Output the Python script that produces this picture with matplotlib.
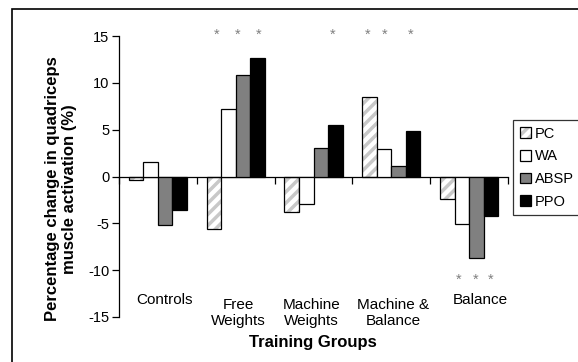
import matplotlib
matplotlib.use("Agg")
import matplotlib.pyplot as plt
import numpy as np
from matplotlib.patches import Patch, Rectangle
from matplotlib.legend_handler import HandlerTuple

plt.rcParams['font.family'] = ['Liberation Sans', 'DejaVu Sans']
plt.rcParams['hatch.linewidth'] = 2.5

groups = ["Controls", "Free\nWeights", "Machine\nWeights", "Machine &\nBalance", "Balance"]
series = ["PC", "WA", "ABSP", "PPO"]
PC = [-0.4, -5.65, -3.8, 8.5, -2.4]
WA = [1.55, 7.2, -2.9, 2.9, -5.1]
ABSP = [-5.2, 10.8, 3.0, 1.1, -8.7]
PPO = [-3.6, 12.7, 5.5, 4.9, -4.2]
values = [PC, WA, ABSP, PPO]

yticks = [-15, -10, -5, 0, 5, 10, 15]

# significance asterisks (x in category units, y in data units)
star_x_top = [0.75, 1.02, 1.29, 2.25, 2.70, 2.92, 3.25]
star_x_bottom = [3.87, 4.09, 4.28]
star_y_top = 15.15
star_y_bottom = -11.0

fig = plt.figure(figsize=(5.78, 3.62), dpi=100)
ax = fig.add_axes([119/578, 1-317/362, (508-119)/578, (317-36)/362])

x = np.arange(len(groups))
w = 0.187
offsets = [-1.5*w, -0.5*w, 0.5*w, 1.5*w]
face = ['white', 'white', '#808080', 'black']
for i, (vals, off) in enumerate(zip(values, offsets)):
    if i == 0:
        ax.bar(x + off, vals, w, color='white', edgecolor='#c8c8c8', hatch='///', linewidth=0, zorder=2)
        ax.bar(x + off, vals, w, fill=False, edgecolor='black', linewidth=0.9, zorder=3)
    else:
        ax.bar(x + off, vals, w, color=face[i], edgecolor='black', linewidth=0.9, zorder=3)

ax.set_xlim(-0.5, len(groups) - 0.5)
ax.set_ylim(-15, 15)
ax.set_yticks(yticks)
ax.set_yticklabels([str(t) for t in yticks], fontsize=10.5)
ax.tick_params(axis='y', direction='out', length=5, width=0.9, pad=2)

for s in ['top', 'right']:
    ax.spines[s].set_visible(False)
ax.spines['bottom'].set_position(('data', 0))
ax.spines['left'].set_linewidth(0.9)
ax.spines['bottom'].set_linewidth(0.9)
ax.set_xticks(np.arange(len(groups) + 1) - 0.5)
ax.set_xticklabels([])
ax.tick_params(axis='x', direction='out', length=5, width=0.9)

label_dx = [0.09, 0.03, -0.03, 0.02, 0.14]
for xi, g, dx in zip(x, groups, label_dx):
    yy = -14.55 if '\n' in g else -13.2
    ax.text(xi + dx, yy, g, ha='center', va='center', fontsize=11, linespacing=1.15)

for sx in star_x_top:
    ax.text(sx, star_y_top, '*', ha='center', va='center', color='#808080', fontsize=10.5, clip_on=False)
for sx in star_x_bottom:
    ax.text(sx, star_y_bottom, '*', ha='center', va='center', color='#808080', fontsize=10.5, clip_on=False)

fig.text(313/578, 1-342/362, "Training Groups", ha='center', va='center', fontsize=12, fontweight='bold')
fig.text(61/578, 1-189/362, "Percentage change in quadriceps\nmuscle activation (%)", ha='center', va='center',
         rotation=90, fontsize=12, fontweight='bold', linespacing=1.2)

h_pc = (Patch(facecolor='white', edgecolor='#c8c8c8', hatch='///', linewidth=0),
        Patch(fill=False, edgecolor='black', linewidth=0.9))
h_wa = Patch(facecolor='white', edgecolor='black', linewidth=0.9)
h_ab = Patch(facecolor='#808080', edgecolor='black', linewidth=0.9)
h_pp = Patch(facecolor='black', edgecolor='black', linewidth=0.9)
leg = fig.legend([h_pc, h_wa, h_ab, h_pp], series, loc='upper left',
                 bbox_to_anchor=(513/578, 1-120/362), frameon=True, fancybox=False,
                 fontsize=10.5, handlelength=0.75, handleheight=0.75, handletextpad=0.3,
                 labelspacing=0.6, borderpad=0.45, borderaxespad=0,
                 handler_map={tuple: HandlerTuple(ndivide=1, pad=0)})
leg.get_frame().set_edgecolor('black')
leg.get_frame().set_linewidth(0.9)

fig.patches.append(Rectangle((12/578, -0.1), 1.2, 1.1 - 9/362, transform=fig.transFigure,
                             fill=False, edgecolor='black', linewidth=1.2))

fig.savefig("out.png", dpi=100)
